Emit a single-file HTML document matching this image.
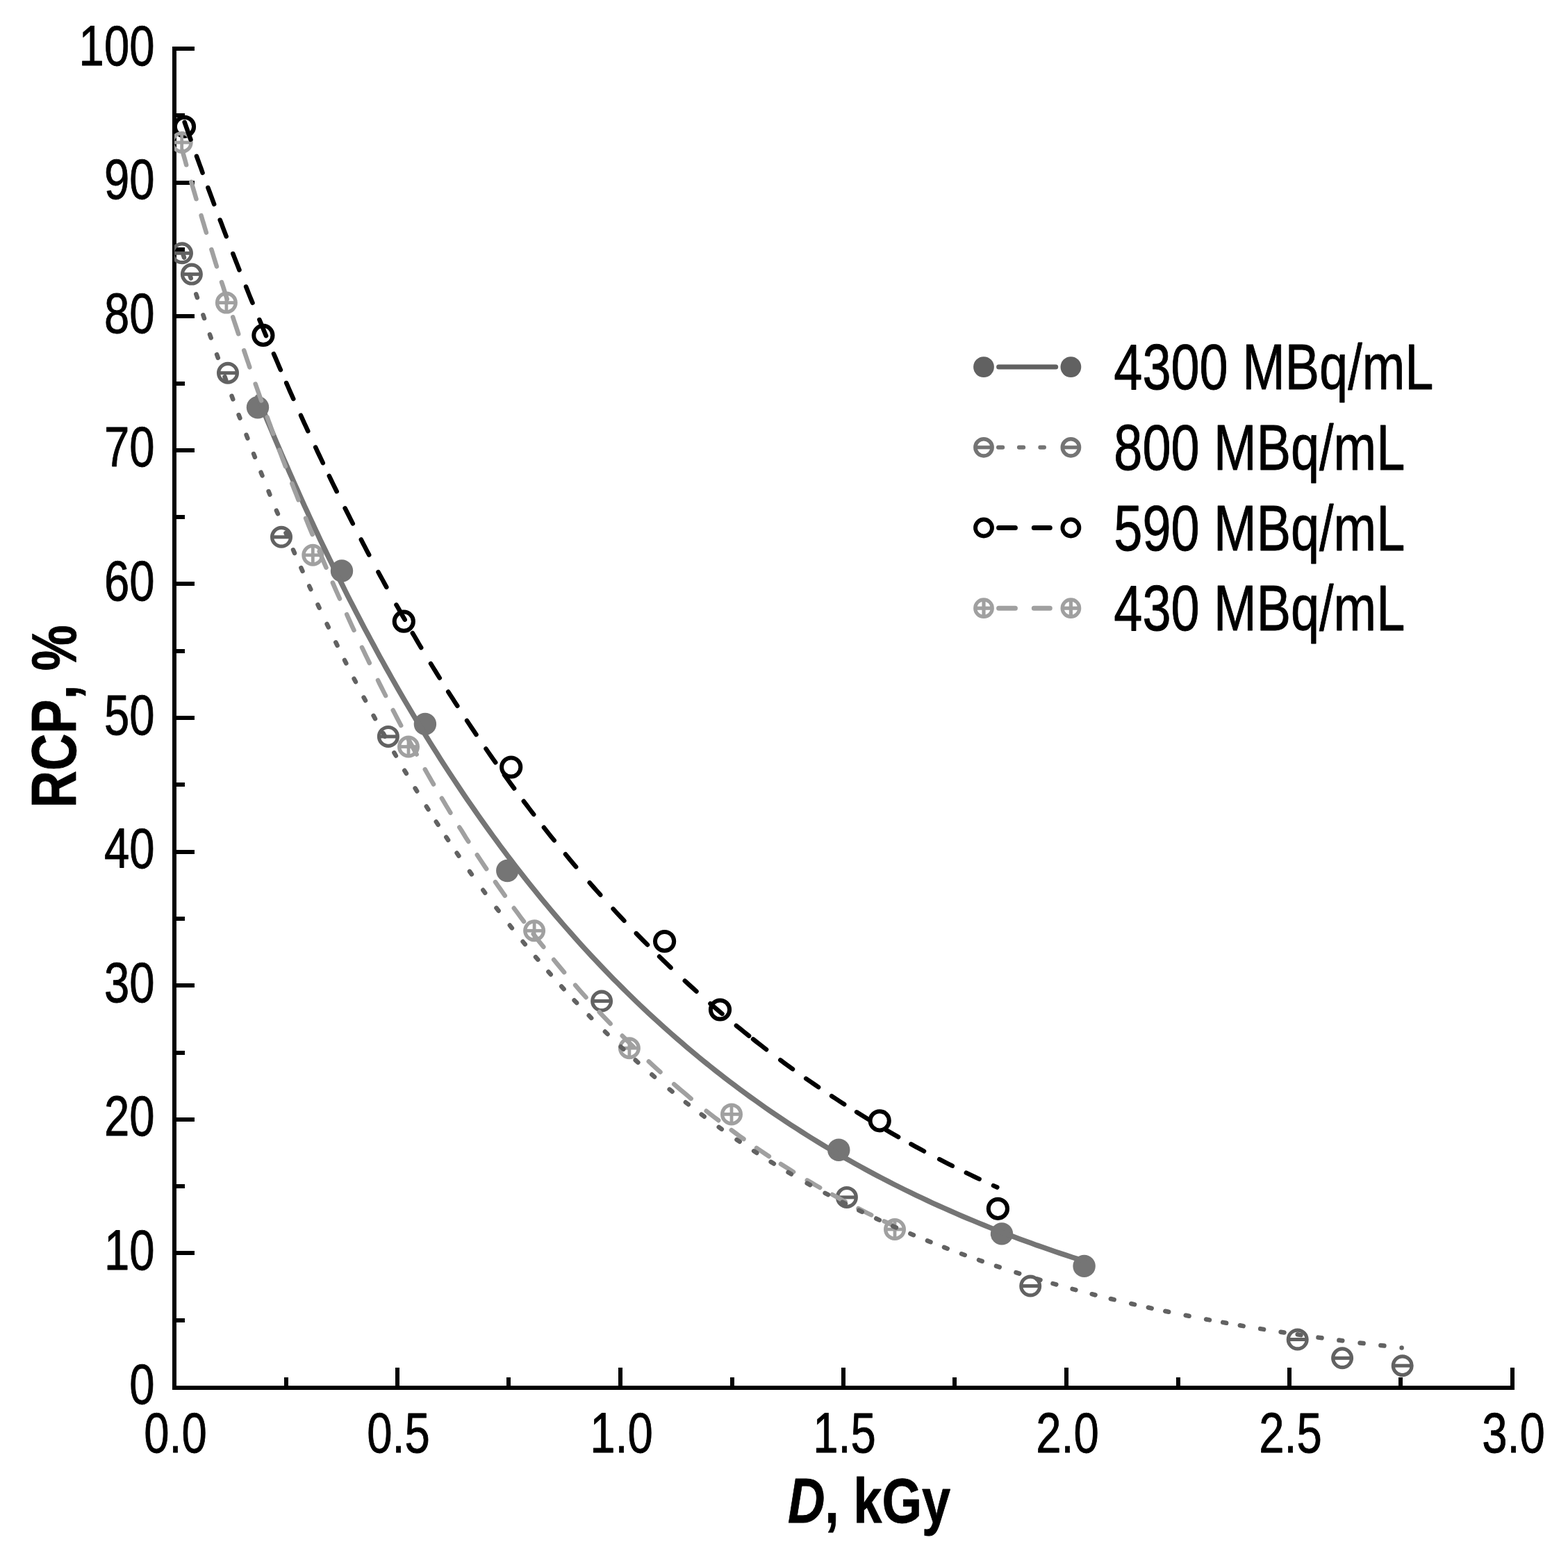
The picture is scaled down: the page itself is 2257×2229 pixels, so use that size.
<!DOCTYPE html>
<html lang="en"><head><meta charset="utf-8"><title>RCP vs D</title>
<style>html,body{margin:0;padding:0;background:#fff}svg{display:block}text{font-family:"Liberation Sans",sans-serif;fill:#000;font-kerning:none;stroke:#000;stroke-linejoin:round}</style></head><body>
<svg width="2257" height="2229" viewBox="0 0 2257 2229">
<rect width="2257" height="2229" fill="#fff"/>
<g fill="#000" shape-rendering="crispEdges">
<rect x="248" y="67" width="6" height="1933"/>
<rect x="248" y="1994" width="1932" height="6"/>
<rect x="254" y="1897" width="12" height="6"/>
<rect x="254" y="1800" width="26" height="6"/>
<rect x="254" y="1704" width="12" height="6"/>
<rect x="254" y="1608" width="26" height="6"/>
<rect x="254" y="1512" width="12" height="6"/>
<rect x="254" y="1415" width="26" height="6"/>
<rect x="254" y="1319" width="12" height="6"/>
<rect x="254" y="1223" width="26" height="6"/>
<rect x="254" y="1126" width="12" height="6"/>
<rect x="254" y="1030" width="26" height="6"/>
<rect x="254" y="934" width="12" height="6"/>
<rect x="254" y="837" width="26" height="6"/>
<rect x="254" y="741" width="12" height="6"/>
<rect x="254" y="645" width="26" height="6"/>
<rect x="254" y="549" width="12" height="6"/>
<rect x="254" y="452" width="26" height="6"/>
<rect x="254" y="356" width="12" height="6"/>
<rect x="254" y="260" width="26" height="6"/>
<rect x="254" y="163" width="12" height="6"/>
<rect x="254" y="67" width="26" height="6"/>
<rect x="409" y="1982" width="6" height="12"/>
<rect x="569" y="1968" width="6" height="26"/>
<rect x="729" y="1982" width="6" height="12"/>
<rect x="890" y="1968" width="6" height="26"/>
<rect x="1051" y="1982" width="6" height="12"/>
<rect x="1211" y="1968" width="6" height="26"/>
<rect x="1371" y="1982" width="6" height="12"/>
<rect x="1532" y="1968" width="6" height="26"/>
<rect x="1693" y="1982" width="6" height="12"/>
<rect x="1853" y="1968" width="6" height="26"/>
<rect x="2013" y="1982" width="6" height="12"/>
<rect x="2174" y="1968" width="6" height="26"/>
</g>
<g font-size="81.6" stroke-width="0.9">
<text transform="translate(222.5,2019.6) scale(0.8,1)" text-anchor="end">0</text>
<text transform="translate(222.5,1827.0) scale(0.8,1)" text-anchor="end">10</text>
<text transform="translate(222.5,1634.4) scale(0.8,1)" text-anchor="end">20</text>
<text transform="translate(222.5,1441.8) scale(0.8,1)" text-anchor="end">30</text>
<text transform="translate(222.5,1249.2) scale(0.8,1)" text-anchor="end">40</text>
<text transform="translate(222.5,1056.6) scale(0.8,1)" text-anchor="end">50</text>
<text transform="translate(222.5,864.0) scale(0.8,1)" text-anchor="end">60</text>
<text transform="translate(222.5,671.4) scale(0.8,1)" text-anchor="end">70</text>
<text transform="translate(222.5,478.8) scale(0.8,1)" text-anchor="end">80</text>
<text transform="translate(222.5,286.2) scale(0.8,1)" text-anchor="end">90</text>
<text transform="translate(222.5,93.6) scale(0.8,1)" text-anchor="end">100</text>
<text transform="translate(252.5,2089.8) scale(0.8,1)" text-anchor="middle">0.0</text>
<text transform="translate(573.5,2089.8) scale(0.8,1)" text-anchor="middle">0.5</text>
<text transform="translate(894.5,2089.8) scale(0.8,1)" text-anchor="middle">1.0</text>
<text transform="translate(1215.5,2089.8) scale(0.8,1)" text-anchor="middle">1.5</text>
<text transform="translate(1536.5,2089.8) scale(0.8,1)" text-anchor="middle">2.0</text>
<text transform="translate(1857.5,2089.8) scale(0.8,1)" text-anchor="middle">2.5</text>
<text transform="translate(2178.5,2089.8) scale(0.8,1)" text-anchor="middle">3.0</text>
</g>
<text font-size="91.4" font-weight="bold" stroke-width="0.8" text-anchor="middle" transform="translate(108.8,1031) rotate(-90) scale(0.809,1)">RCP, %</text>
<text font-size="91.4" font-weight="bold" stroke-width="0.8" text-anchor="middle" transform="translate(1251,2190.7) scale(0.809,1)"><tspan font-style="italic">D</tspan>, kGy</text>
<defs><clipPath id="plotclip"><rect x="251" y="0" width="2006" height="1997"/></clipPath></defs>
<g clip-path="url(#plotclip)" shape-rendering="auto">
<circle cx="371.0" cy="586.2" r="16.20" fill="#757575"/>
<circle cx="492.0" cy="821.5" r="16.20" fill="#757575"/>
<circle cx="611.9" cy="1041.9" r="16.20" fill="#757575"/>
<circle cx="730.3" cy="1253.0" r="16.20" fill="#757575"/>
<circle cx="1207.3" cy="1654.7" r="16.20" fill="#757575"/>
<circle cx="1442.0" cy="1775.4" r="16.20" fill="#757575"/>
<circle cx="1560.6" cy="1821.9" r="16.20" fill="#757575"/>
<circle cx="262.0" cy="364.3" r="13.40" fill="none" stroke="#626262" stroke-width="5.20"/><path d="M248.6,364.3H275.4" stroke="#626262" stroke-width="5.00" fill="none"/>
<circle cx="275.9" cy="394.6" r="13.40" fill="none" stroke="#626262" stroke-width="5.20"/><path d="M262.5,394.6H289.3" stroke="#626262" stroke-width="5.00" fill="none"/>
<circle cx="328.0" cy="536.7" r="13.40" fill="none" stroke="#626262" stroke-width="5.20"/><path d="M314.6,536.7H341.4" stroke="#626262" stroke-width="5.00" fill="none"/>
<circle cx="405.0" cy="772.8" r="13.40" fill="none" stroke="#626262" stroke-width="5.20"/><path d="M391.6,772.8H418.4" stroke="#626262" stroke-width="5.00" fill="none"/>
<circle cx="558.9" cy="1059.9" r="13.40" fill="none" stroke="#626262" stroke-width="5.20"/><path d="M545.5,1059.9H572.3" stroke="#626262" stroke-width="5.00" fill="none"/>
<circle cx="866.1" cy="1440.5" r="13.40" fill="none" stroke="#626262" stroke-width="5.20"/><path d="M852.7,1440.5H879.5" stroke="#626262" stroke-width="5.00" fill="none"/>
<circle cx="1218.9" cy="1722.9" r="13.40" fill="none" stroke="#626262" stroke-width="5.20"/><path d="M1205.5,1722.9H1232.3" stroke="#626262" stroke-width="5.00" fill="none"/>
<circle cx="1483.2" cy="1850.5" r="13.40" fill="none" stroke="#626262" stroke-width="5.20"/><path d="M1469.8,1850.5H1496.6" stroke="#626262" stroke-width="5.00" fill="none"/>
<circle cx="1867.7" cy="1927.5" r="13.40" fill="none" stroke="#626262" stroke-width="5.20"/><path d="M1854.3,1927.5H1881.1" stroke="#626262" stroke-width="5.00" fill="none"/>
<circle cx="1932.1" cy="1954.3" r="13.40" fill="none" stroke="#626262" stroke-width="5.20"/><path d="M1918.7,1954.3H1945.5" stroke="#626262" stroke-width="5.00" fill="none"/>
<circle cx="2018.7" cy="1965.2" r="13.40" fill="none" stroke="#626262" stroke-width="5.20"/><path d="M2005.3,1965.2H2032.1" stroke="#626262" stroke-width="5.00" fill="none"/>
<circle cx="265.5" cy="182.3" r="13.60" fill="none" stroke="#000000" stroke-width="6.00"/>
<circle cx="378.9" cy="482.4" r="13.60" fill="none" stroke="#000000" stroke-width="6.00"/>
<circle cx="581.3" cy="894.2" r="13.60" fill="none" stroke="#000000" stroke-width="6.00"/>
<circle cx="735.7" cy="1104.0" r="13.60" fill="none" stroke="#000000" stroke-width="6.00"/>
<circle cx="956.6" cy="1354.5" r="13.60" fill="none" stroke="#000000" stroke-width="6.00"/>
<circle cx="1036.5" cy="1453.0" r="13.60" fill="none" stroke="#000000" stroke-width="6.00"/>
<circle cx="1266.2" cy="1612.8" r="13.60" fill="none" stroke="#000000" stroke-width="6.00"/>
<circle cx="1436.4" cy="1739.3" r="13.60" fill="none" stroke="#000000" stroke-width="6.00"/>
<circle cx="261.7" cy="205.0" r="13.35" fill="none" stroke="#a0a0a0" stroke-width="5.30"/><path d="M248.3,205.0H275.1" stroke="#a0a0a0" stroke-width="4.80" fill="none"/><path d="M261.7,191.7V218.3" stroke="#a0a0a0" stroke-width="4.80" fill="none"/>
<circle cx="325.9" cy="435.6" r="13.35" fill="none" stroke="#a0a0a0" stroke-width="5.30"/><path d="M312.5,435.6H339.2" stroke="#a0a0a0" stroke-width="4.80" fill="none"/><path d="M325.9,422.2V449.0" stroke="#a0a0a0" stroke-width="4.80" fill="none"/>
<circle cx="450.3" cy="798.8" r="13.35" fill="none" stroke="#a0a0a0" stroke-width="5.30"/><path d="M436.9,798.8H463.7" stroke="#a0a0a0" stroke-width="4.80" fill="none"/><path d="M450.3,785.4V812.1" stroke="#a0a0a0" stroke-width="4.80" fill="none"/>
<circle cx="588.0" cy="1074.5" r="13.35" fill="none" stroke="#a0a0a0" stroke-width="5.30"/><path d="M574.6,1074.5H601.4" stroke="#a0a0a0" stroke-width="4.80" fill="none"/><path d="M588.0,1061.2V1087.8" stroke="#a0a0a0" stroke-width="4.80" fill="none"/>
<circle cx="769.1" cy="1339.3" r="13.35" fill="none" stroke="#a0a0a0" stroke-width="5.30"/><path d="M755.8,1339.3H782.5" stroke="#a0a0a0" stroke-width="4.80" fill="none"/><path d="M769.1,1326.0V1352.6" stroke="#a0a0a0" stroke-width="4.80" fill="none"/>
<circle cx="905.9" cy="1508.2" r="13.35" fill="none" stroke="#a0a0a0" stroke-width="5.30"/><path d="M892.5,1508.2H919.2" stroke="#a0a0a0" stroke-width="4.80" fill="none"/><path d="M905.9,1494.9V1521.5" stroke="#a0a0a0" stroke-width="4.80" fill="none"/>
<circle cx="1053.0" cy="1603.4" r="13.35" fill="none" stroke="#a0a0a0" stroke-width="5.30"/><path d="M1039.7,1603.4H1066.3" stroke="#a0a0a0" stroke-width="4.80" fill="none"/><path d="M1053.0,1590.1V1616.8" stroke="#a0a0a0" stroke-width="4.80" fill="none"/>
<circle cx="1288.0" cy="1769.0" r="13.35" fill="none" stroke="#a0a0a0" stroke-width="5.30"/><path d="M1274.7,1769.0H1301.3" stroke="#a0a0a0" stroke-width="4.80" fill="none"/><path d="M1288.0,1755.7V1782.3" stroke="#a0a0a0" stroke-width="4.80" fill="none"/>
<path d="M371.0,571.3L374.4,579.6L377.8,587.9L381.2,596.2L384.6,604.5L388.1,612.8L391.6,621.1L395.0,629.4L398.5,637.6L402.1,645.9L405.6,654.1L409.2,662.4L412.8,670.6L416.3,678.8L420.0,687.0L423.6,695.2L427.3,703.4L430.9,711.6L434.6,719.8L438.3,728.0L442.1,736.1L445.8,744.3L449.6,752.4L453.4,760.6L457.2,768.7L461.0,776.8L464.9,784.9L468.8,793.0L472.7,801.1L476.6,809.1L480.5,817.2L484.5,825.3L488.5,833.3L492.5,841.3L496.5,849.4L500.5,857.4L504.6,865.4L508.7,873.3L512.8,881.3L517.0,889.3L521.1,897.2L525.3,905.2L529.6,913.1L533.8,921.0L538.1,928.9L542.3,936.8L546.6,944.7L551.0,952.5L555.3,960.4L559.7,968.2L564.1,976.0L568.6,983.8L573.0,991.6L577.5,999.4L582.0,1007.1L586.6,1014.9L591.2,1022.6L595.8,1030.3L600.4,1038.0L605.0,1045.7L609.7,1053.3L614.4,1061.0L619.1,1068.6L623.9,1076.2L628.7,1083.8L633.5,1091.4L638.3,1098.9L643.2,1106.5L648.1,1114.0L653.1,1121.5L658.0,1128.9L663.0,1136.4L668.0,1143.8L673.1,1151.3L678.2,1158.7L683.3,1166.0L688.4,1173.4L693.6,1180.7L698.8,1188.0L704.0,1195.3L709.3,1202.6L714.6,1209.8L719.9,1217.1L725.3,1224.3L730.7,1231.4L736.1,1238.6L741.6,1245.7L747.1,1252.8L752.6,1259.9L758.1,1266.9L763.7,1273.9L769.4,1280.9L775.0,1287.9L780.7,1294.8L786.4,1301.7L792.2,1308.6L798.0,1315.5L803.8,1322.3L809.7,1329.1L815.6,1335.9L821.5,1342.6L827.4,1349.3L833.4,1356.0L839.5,1362.7L845.5,1369.3L851.6,1375.9L857.8,1382.4L863.9,1388.9L870.1,1395.4L876.4,1401.9L882.6,1408.3L889.0,1414.7L895.3,1421.0L901.7,1427.3L908.1,1433.6L914.5,1439.9L921.0,1446.1L927.5,1452.2L934.1,1458.4L940.7,1464.5L947.3,1470.5L953.9,1476.5L960.6,1482.5L967.4,1488.5L974.1,1494.4L980.9,1500.2L987.7,1506.1L994.6,1511.9L1001.5,1517.6L1008.4,1523.3L1015.4,1529.0L1022.4,1534.6L1029.4,1540.2L1036.5,1545.7L1043.5,1551.2L1050.7,1556.7L1057.8,1562.1L1065.0,1567.5L1072.2,1572.8L1079.5,1578.1L1086.8,1583.3L1094.1,1588.5L1101.4,1593.7L1108.8,1598.8L1116.2,1603.9L1123.7,1608.9L1131.1,1613.9L1138.6,1618.8L1146.2,1623.7L1153.7,1628.5L1161.3,1633.3L1168.9,1638.1L1176.5,1642.8L1184.2,1647.5L1191.9,1652.1L1199.6,1656.6L1207.4,1661.2L1215.2,1665.7L1223.0,1670.1L1230.8,1674.5L1238.6,1678.8L1246.5,1683.1L1254.4,1687.4L1262.3,1691.6L1270.3,1695.8L1278.3,1699.9L1286.2,1704.0L1294.3,1708.0L1302.3,1712.0L1310.4,1715.9L1318.4,1719.8L1326.6,1723.7L1334.7,1727.5L1342.8,1731.3L1351.0,1735.0L1359.2,1738.7L1367.4,1742.3L1375.6,1745.9L1383.8,1749.5L1392.1,1753.0L1400.4,1756.4L1408.7,1759.9L1417.0,1763.2L1425.3,1766.6L1433.7,1769.9L1442.0,1773.2L1450.4,1776.4L1458.8,1779.5L1467.2,1782.7L1475.6,1785.8L1484.1,1788.8L1492.5,1791.9L1501.0,1794.8L1509.5,1797.8L1518.0,1800.7L1526.5,1803.6L1535.0,1806.4L1543.5,1809.2L1552.0,1811.9L1560.6,1814.6" fill="none" stroke="#757575" stroke-width="7.5" stroke-linecap="round" stroke-linejoin="round"/>
<path d="M265.7,175.9L267.9,182.1L270.1,188.3L272.3,194.6L274.5,200.8 M283.0,224.9L285.2,230.8L287.3,236.8L289.5,242.7L291.6,248.7 M299.4,270.1L301.6,276.0L303.8,281.9L306.0,287.9L308.2,293.8 M316.7,316.5L319.0,322.4L321.2,328.3L323.4,334.2L325.7,340.1 M335.3,365.0L337.6,370.9L339.9,376.7L342.2,382.6L344.5,388.5 M354.1,412.5L356.4,418.3L358.7,424.1L361.1,430.0L363.5,435.8 M373.4,460.0L375.8,465.8L378.2,471.6L380.6,477.4L383.0,483.2 M394.0,509.2L396.5,514.9L399.0,520.7L401.4,526.5L403.9,532.2 M412.2,551.1L414.7,556.8L417.2,562.6L419.8,568.3L422.3,574.0 M433.0,597.7L435.5,603.4L438.1,609.1L440.7,614.7L443.3,620.4 M454.2,643.7L456.8,649.4L459.5,655.0L462.2,660.6L464.8,666.2 M473.8,684.9L476.5,690.5L479.2,696.1L482.0,701.7L484.7,707.2 M496.6,731.3L499.4,736.8L502.2,742.3L505.0,747.9L507.8,753.4 M519.8,776.5L522.6,782.0L525.5,787.5L528.3,793.0L531.2,798.4 M544.5,823.2L547.4,828.6L550.4,834.0L553.3,839.4L556.3,844.8 M570.5,870.4L573.6,875.7L576.6,881.1L579.6,886.4L582.7,891.7 M593.8,911.0L596.9,916.2L600.0,921.5L603.1,926.8L606.2,932.0 M620.0,954.9L623.2,960.1L626.4,965.3L629.6,970.4L632.8,975.6 M645.2,995.4L648.4,1000.5L651.7,1005.6L655.0,1010.7L658.3,1015.8 M672.1,1037.0L675.4,1042.0L678.8,1047.1L682.2,1052.1L685.5,1057.1 M699.5,1077.5L702.9,1082.5L706.3,1087.4L709.8,1092.3L713.2,1097.2 M726.0,1115.1L730.7,1121.6L735.3,1128.0L740.1,1134.5 M753.8,1153.0L758.6,1159.3L763.4,1165.6L768.2,1171.9 M782.9,1190.8L787.8,1197.0L792.7,1203.2L797.7,1209.3 M814.0,1229.3L819.0,1235.4L824.0,1241.4L829.1,1247.3 M848.7,1270.2L853.8,1276.0L859.0,1281.8L864.2,1287.7 M882.6,1307.9L887.8,1313.6L893.1,1319.2L898.4,1324.9 M915.8,1343.1L921.2,1348.6L926.6,1354.1L932.0,1359.5 M949.1,1376.5L954.6,1381.8L960.1,1387.1L965.5,1392.4 M985.8,1411.4L991.3,1416.5L996.9,1421.5L1002.5,1426.6 M1022.5,1444.2L1028.1,1449.1L1033.8,1454.0L1039.5,1458.9 M1059.9,1475.9L1065.9,1480.8L1072.0,1485.7L1078.1,1490.6 M1084.1,1495.4L1088.8,1499.1L1093.5,1502.8L1098.3,1506.5L1103.1,1510.2 M1123.3,1525.4L1129.2,1529.8L1135.1,1534.1L1141.0,1538.4 M1160.2,1552.1L1166.1,1556.2L1172.1,1560.3L1178.1,1564.4 M1197.1,1577.2L1203.1,1581.1L1209.1,1585.1L1215.2,1589.0 M1233.1,1600.3L1239.1,1604.1L1245.2,1607.8L1251.3,1611.6 M1274.7,1625.5L1280.8,1629.1L1286.9,1632.6L1293.1,1636.1 M1311.4,1646.4L1317.6,1649.8L1323.8,1653.1L1330.0,1656.5 M1352.2,1668.2L1358.4,1671.4L1364.6,1674.6L1370.8,1677.7 M1390.8,1687.6L1397.1,1690.7L1403.4,1693.7L1409.6,1696.6 M1430.0,1706.1L1435.3,1708.5" fill="none" stroke="#000000" stroke-width="6.5" stroke-linecap="round"/>
<path d="M262.6,217.4L264.5,224.0L266.4,230.6L268.2,237.3 M275.3,261.8L277.1,267.9L278.9,274.0L280.7,280.1L282.5,286.3 M289.6,310.2L291.4,316.3L293.3,322.5L295.1,328.6L296.9,334.7 M304.4,359.0L306.3,365.1L308.1,371.2L310.0,377.3L311.9,383.4 M319.0,406.0L321.0,412.1L322.9,418.1L324.8,424.2L326.8,430.3 M335.2,456.3L337.2,462.4L339.2,468.4L341.2,474.4L343.2,480.5 M351.2,504.3L353.2,510.3L355.2,516.3L357.3,522.3L359.3,528.3 M367.7,552.5L369.8,558.5L371.9,564.5L374.0,570.5L376.1,576.5 M384.7,600.3L386.8,606.3L389.0,612.2L391.1,618.2L393.3,624.1 M402.0,647.5L404.2,653.4L406.4,659.4L408.7,665.3L410.9,671.2 M420.3,695.8L422.6,701.7L424.9,707.5L427.2,713.4L429.5,719.3 M440.1,745.8L442.4,751.6L444.8,757.5L447.2,763.3L449.6,769.1 M459.7,793.6L462.1,799.3L464.5,805.1L467.0,810.9L469.5,816.7 M478.9,838.6L481.4,844.4L483.9,850.1L486.4,855.8L489.0,861.5 M499.2,884.2L501.7,889.9L504.3,895.6L506.9,901.3L509.5,906.9 M521.0,931.6L523.7,937.2L526.4,942.8L529.1,948.4L531.8,954.0 M544.0,978.9L546.7,984.5L549.5,990.0L552.3,995.6L555.1,1001.1 M565.7,1022.0L568.6,1027.5L571.4,1032.9L574.3,1038.4L577.2,1043.9 M587.9,1063.9L590.8,1069.3L593.8,1074.7L596.7,1080.1L599.7,1085.5 M611.8,1107.2L614.8,1112.5L617.9,1117.8L620.9,1123.2L624.0,1128.5 M635.9,1148.7L639.0,1153.9L642.1,1159.2L645.3,1164.4L648.4,1169.6 M661.3,1190.5L664.6,1195.6L667.8,1200.8L671.0,1205.9L674.3,1211.0 M686.8,1230.2L690.1,1235.3L693.4,1240.3L696.8,1245.3L700.2,1250.3 M713.0,1269.1L716.4,1274.1L719.9,1279.0L723.3,1283.9L726.8,1288.8 M739.8,1306.8L744.5,1313.2L749.2,1319.6L754.0,1326.0 M767.7,1344.0L772.5,1350.2L777.4,1356.4L782.3,1362.6 M797.1,1381.0L802.1,1387.1L807.1,1393.1L812.1,1399.1 M828.1,1417.7L833.2,1423.6L838.3,1429.4L843.5,1435.2 M862.7,1456.3L868.0,1461.9L873.3,1467.5L878.6,1473.1 M895.7,1490.5L901.1,1495.9L906.5,1501.2L911.9,1506.6 M933.8,1527.4L939.4,1532.6L944.9,1537.7L950.5,1542.7 M970.2,1560.1L975.0,1564.3L979.9,1568.5L984.8,1572.6L989.8,1576.8L994.7,1580.9 M1016.7,1598.7L1022.5,1603.2L1028.3,1607.7L1034.2,1612.2 M1052.8,1626.2L1058.7,1630.5L1064.6,1634.8L1070.5,1639.0 M1089.0,1651.9L1094.9,1655.9L1100.9,1660.0L1106.9,1664.0 M1123.9,1675.0L1129.9,1678.8L1136.0,1682.6L1142.1,1686.4 M1161.8,1698.3L1167.9,1701.9L1174.0,1705.5L1180.2,1709.0 M1198.0,1719.0L1204.2,1722.4L1210.4,1725.8L1216.6,1729.1 M1235.5,1739.0L1241.7,1742.2L1248.0,1745.3L1254.2,1748.4 M1272.7,1757.4L1278.7,1760.2L1284.8,1763.0" fill="none" stroke="#a0a0a0" stroke-width="6.5" stroke-linecap="round"/>
<path d="M263.8,366.9L265.0,370.6 M273.1,395.5L274.7,400.3 M282.3,423.4L283.9,428.1 M292.4,453.3L294.0,458.0 M302.0,481.4L303.7,486.1 M312.1,510.2L313.8,514.9 M323.5,542.2L325.2,546.9 M333.6,569.8L335.3,574.5 M343.6,597.0L345.4,601.7 M354.6,625.9L356.4,630.6 M365.1,653.1L366.9,657.7 M375.6,679.7L377.5,684.4 M386.6,707.0L388.4,711.6 M397.9,734.7L399.9,739.3 M411.5,766.9L413.5,771.5 M422.0,791.3L424.0,795.9 M433.4,817.2L435.5,821.8 M445.2,843.5L447.3,848.0 M457.5,870.1L459.6,874.7 M470.6,898.0L472.8,902.5 M483.3,924.3L485.5,928.8 M496.0,949.9L498.3,954.4 M509.6,976.7L511.9,981.1 M523.6,1003.6L526.0,1008.0 M537.6,1029.8L540.0,1034.2 M551.7,1055.2L554.1,1059.6 M567.4,1083.1L569.9,1087.5 M582.3,1108.7L584.9,1113.0 M597.6,1134.3L600.2,1138.5 M613.8,1160.5L616.5,1164.7 M627.8,1182.5L630.6,1186.7 M642.3,1204.7L645.1,1208.8 M657.6,1227.5L660.4,1231.6 M676.0,1254.0L678.9,1258.1 M695.3,1280.8L698.2,1284.8 M714.5,1306.6L717.6,1310.6 M733.8,1331.5L736.9,1335.4 M752.6,1355.0L755.8,1358.8 M771.0,1377.1L774.3,1380.9 M789.4,1398.4L792.7,1402.2 M808.2,1419.5L811.6,1423.2 M826.6,1439.4L830.1,1443.1 M847.7,1461.3L851.2,1464.9 M870.9,1484.5L874.5,1488.0 M893.6,1506.3L897.3,1509.7 M914.7,1525.5L918.4,1528.9 M938.3,1546.3L942.1,1549.6 M963.7,1567.6L967.6,1570.8 M986.9,1586.2L990.9,1589.3 M1009.7,1603.7L1013.7,1606.7 M1034.7,1621.9L1038.8,1624.9 M1060.5,1640.0L1064.7,1642.8 M1085.1,1656.3L1089.3,1659.0 M1109.6,1671.9L1113.9,1674.5 M1134.6,1687.0L1138.9,1689.5 M1161.7,1702.6L1166.1,1705.1 M1187.6,1716.8L1192.0,1719.1 M1212.6,1729.8L1217.0,1732.1 M1236.3,1741.6L1240.8,1743.8 M1261.2,1753.5L1265.8,1755.6 M1285.3,1764.4L1289.9,1766.4 M1310.3,1775.2L1314.9,1777.2 M1334.9,1785.4L1339.5,1787.2 M1359.0,1794.9L1363.7,1796.7 M1384.0,1804.3L1388.7,1806.0 M1409.0,1813.2L1413.7,1814.9 M1434.0,1821.8L1438.7,1823.4 M1462.5,1831.1L1467.2,1832.6 M1492.7,1840.4L1497.5,1841.8 M1515.5,1847.0L1520.3,1848.4 M1543.6,1854.8L1548.4,1856.1 M1571.7,1862.2L1576.5,1863.5 M1598.8,1869.0L1603.7,1870.2 M1628.2,1876.0L1633.1,1877.1 M1652.8,1881.5L1657.7,1882.6 M1677.3,1886.8L1682.2,1887.8 M1706.7,1892.8L1711.6,1893.8 M1736.1,1898.5L1741.0,1899.4 M1760.2,1902.9L1765.2,1903.8 M1784.8,1907.2L1789.7,1908.1 M1814.2,1912.1L1819.1,1912.9 M1843.6,1916.7L1848.5,1917.5 M1867.7,1920.3L1872.6,1921.1 M1897.5,1924.6L1902.5,1925.3 M1927.4,1928.6L1932.3,1929.2 M1957.6,1932.4L1962.6,1933.0 M1987.4,1936.0L1992.4,1936.6 M2017.6,1939.4L2017.6,1939.4" fill="none" stroke="#626262" stroke-width="6.5" stroke-linecap="round"/>
</g>
<g shape-rendering="auto">
<circle cx="1416.0" cy="528.1" r="14.90" fill="#616161"/>
<circle cx="1541.4" cy="528.1" r="14.90" fill="#616161"/>
<path d="M1437.6,528.1H1519.7" stroke="#616161" stroke-width="7" stroke-linecap="round" fill="none"/>
<circle cx="1416.0" cy="643.8" r="12.15" fill="none" stroke="#747474" stroke-width="5.50"/><path d="M1403.8,643.8H1428.2" stroke="#747474" stroke-width="5.20" fill="none"/>
<circle cx="1541.4" cy="643.8" r="12.15" fill="none" stroke="#747474" stroke-width="5.50"/><path d="M1529.2,643.8H1553.6" stroke="#747474" stroke-width="5.20" fill="none"/>
<path d="M1437.0,643.8H1443.2 M1466.9,643.8H1473.2 M1497.3,643.8H1503.0" stroke="#747474" stroke-width="6" stroke-linecap="round" fill="none"/>
<circle cx="1416.0" cy="759.5" r="11.95" fill="none" stroke="#000000" stroke-width="5.90"/>
<circle cx="1541.4" cy="759.5" r="11.95" fill="none" stroke="#000000" stroke-width="5.90"/>
<path d="M1437.6,759.5H1461.4 M1488.3,759.5H1511.3" stroke="#000000" stroke-width="7" stroke-linecap="round" fill="none"/>
<circle cx="1416.0" cy="875.2" r="12.30" fill="none" stroke="#a0a0a0" stroke-width="5.20"/><path d="M1403.7,875.2H1428.3" stroke="#a0a0a0" stroke-width="5.20" fill="none"/><path d="M1416.0,862.9V887.5" stroke="#a0a0a0" stroke-width="5.20" fill="none"/>
<circle cx="1541.4" cy="875.2" r="12.30" fill="none" stroke="#a0a0a0" stroke-width="5.20"/><path d="M1529.1,875.2H1553.7" stroke="#a0a0a0" stroke-width="5.20" fill="none"/><path d="M1541.4,862.9V887.5" stroke="#a0a0a0" stroke-width="5.20" fill="none"/>
<path d="M1437.6,875.2H1461.4 M1488.3,875.2H1511.3" stroke="#a0a0a0" stroke-width="7" stroke-linecap="round" fill="none"/>
</g>
<g font-size="91.8" stroke-width="0.9">
<text transform="translate(1603.3,560.2) scale(0.805,1)">4300 MBq/mL</text>
<text transform="translate(1603.3,675.9) scale(0.805,1)">800 MBq/mL</text>
<text transform="translate(1603.3,791.6) scale(0.805,1)">590 MBq/mL</text>
<text transform="translate(1603.3,907.3) scale(0.805,1)">430 MBq/mL</text>
</g>
</svg></body></html>
